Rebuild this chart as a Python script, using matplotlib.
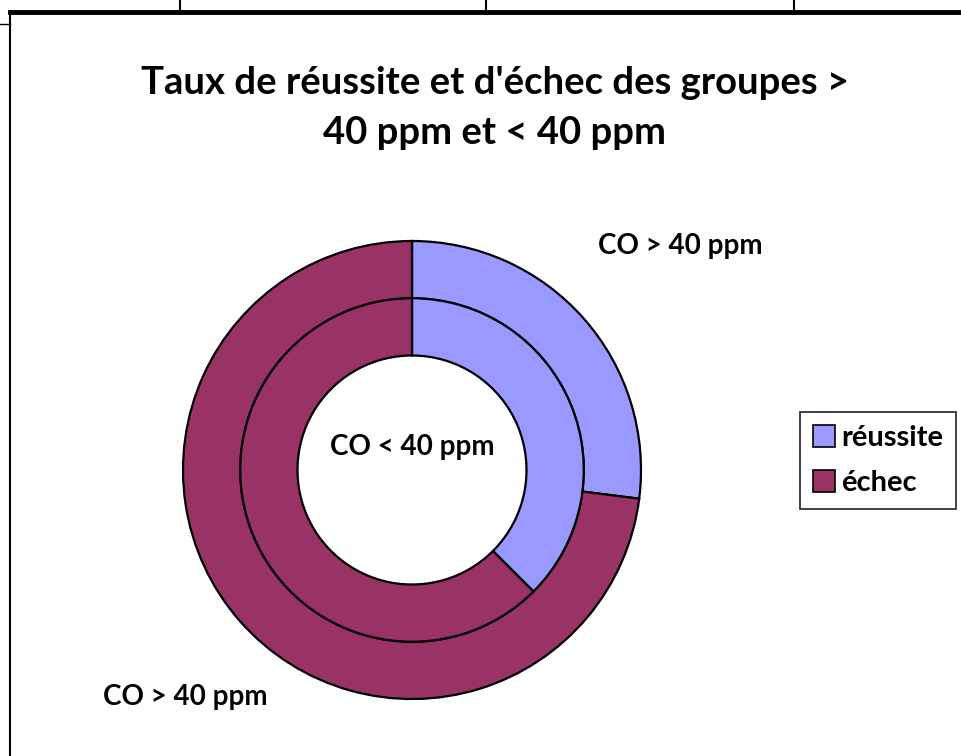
import matplotlib
matplotlib.use("Agg")
import matplotlib.pyplot as plt
from matplotlib.lines import Line2D
from matplotlib.patches import Patch

categories = ["réussite", "échec"]
outer_values = [27, 73]      # CO > 40 ppm
inner_values = [37.5, 62.5]  # CO < 40 ppm
colors = ["#9999FF", "#993366"]
title = "Taux de réussite et d'échec des groupes >\n40 ppm et < 40 ppm"

W, H = 962, 756
fig = plt.figure(figsize=(W / 100, H / 100), dpi=100)
plt.rcParams['font.family'] = ['Lato', 'DejaVu Sans']

def fx(x):
    return x / W

def fy(y):
    return 1 - y / H

# frame / table lines
fig.add_artist(Line2D([fx(10), fx(962)], [fy(12), fy(12)], color="black", lw=3.5))
fig.add_artist(Line2D([fx(10), fx(10)], [fy(12), fy(756)], color="black", lw=1.5))
fig.add_artist(Line2D([fx(0), fx(10)], [fy(24), fy(24)], color="black", lw=1.0))
for xv in [180, 486, 794]:
    fig.add_artist(Line2D([fx(xv), fx(xv)], [fy(0), fy(12)], color="black", lw=1.5))

# pie axes
cx, cy, R = 412, 470, 229
ax = fig.add_axes([fx(cx - R), fy(cy + R), 2 * R / W, 2 * R / H])
ax.set_aspect("equal")
ax.axis("off")

wp = dict(width=0.25, edgecolor="black", linewidth=1.6)
ax.pie(outer_values, radius=1.0, colors=colors, startangle=90,
       counterclock=False, wedgeprops=wp)
ax.pie(inner_values, radius=0.75, colors=colors, startangle=90,
       counterclock=False, wedgeprops=wp)
ax.set_xlim(-1.0, 1.0)
ax.set_ylim(-1.0, 1.0)

# title
fig.text(fx(495), fy(108), title, ha="center", va="center", fontsize=27.5,
         fontweight="bold", linespacing=1.55)

# ring labels
lab_fs = 20
fig.text(fx(680), fy(246), "CO > 40 ppm", ha="center", va="center",
         fontsize=lab_fs, fontweight="bold")
fig.text(fx(412), fy(447), "CO < 40 ppm", ha="center", va="center",
         fontsize=lab_fs, fontweight="bold")
fig.text(fx(185), fy(697), "CO > 40 ppm", ha="center", va="center",
         fontsize=lab_fs, fontweight="bold")

# legend
handles = [Patch(facecolor=c, edgecolor="black", linewidth=1.2) for c in colors]
leg = fig.legend(handles, categories, loc="upper left",
                 bbox_to_anchor=(fx(800), fy(412)), frameon=True,
                 fancybox=False, edgecolor="black", handlelength=0.75,
                 handleheight=0.75, handletextpad=0.2, borderpad=0.45,
                 labelspacing=0.65, prop=dict(size=21, weight="bold"),
                 borderaxespad=0)
leg.get_frame().set_linewidth(1.3)

fig.savefig("out.png", dpi=100)
